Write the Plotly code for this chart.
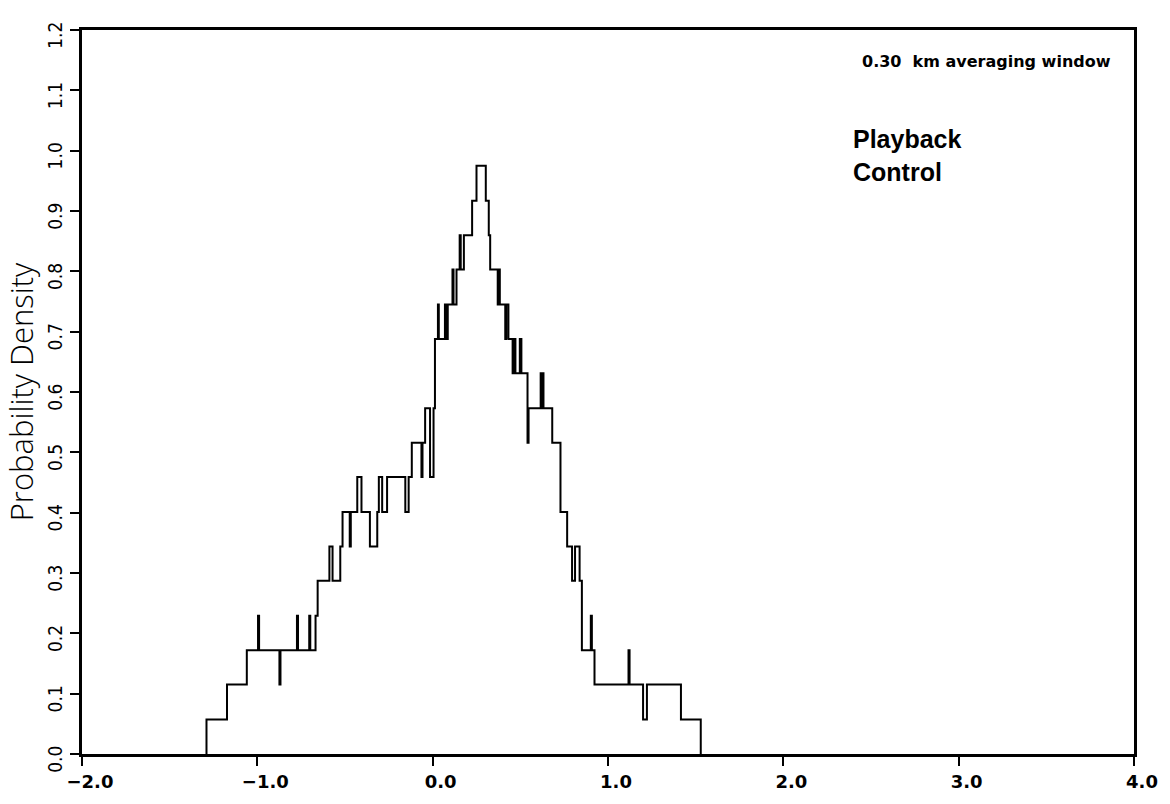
import plotly.graph_objects as go

# Step histogram of the playback-control distribution: left edge of each
# constant segment and the probability density held over that segment.
bin_left = [
    -1.290, -1.173, -1.060, -0.996, -0.990, -0.874, -0.868, -0.774, -0.768,
    -0.704, -0.698, -0.668, -0.656, -0.589, -0.571, -0.527, -0.514, -0.473,
    -0.467, -0.430, -0.406, -0.358, -0.316, -0.307, -0.288, -0.260, -0.156,
    -0.137, -0.119, -0.064, -0.058, -0.043, -0.015, 0.005, 0.013, 0.030,
    0.035, 0.070, 0.078, 0.086, 0.113, 0.119, 0.136, 0.154, 0.160, 0.178,
    0.225, 0.250, 0.303, 0.320, 0.328, 0.371, 0.377, 0.383, 0.414, 0.420,
    0.432, 0.456, 0.462, 0.472, 0.497, 0.506, 0.541, 0.547, 0.616, 0.621,
    0.627, 0.632, 0.682, 0.729, 0.767, 0.795, 0.812, 0.838, 0.851, 0.902,
    0.908, 0.923, 1.117, 1.123, 1.200, 1.222, 1.416,
]
density = [
    0.057, 0.115, 0.172, 0.229, 0.172, 0.115, 0.172, 0.229, 0.172,
    0.229, 0.172, 0.229, 0.287, 0.344, 0.287, 0.344, 0.401, 0.344,
    0.401, 0.459, 0.401, 0.344, 0.401, 0.459, 0.401, 0.459, 0.401,
    0.459, 0.516, 0.459, 0.516, 0.573, 0.459, 0.573, 0.688, 0.745,
    0.688, 0.745, 0.688, 0.745, 0.803, 0.745, 0.803, 0.860, 0.803, 0.860,
    0.917, 0.975, 0.917, 0.860, 0.803, 0.745, 0.803, 0.745, 0.688, 0.745,
    0.688, 0.631, 0.688, 0.631, 0.688, 0.631, 0.516, 0.573, 0.631, 0.573,
    0.631, 0.573, 0.516, 0.401, 0.344, 0.287, 0.344, 0.287, 0.172, 0.229,
    0.172, 0.115, 0.172, 0.115, 0.057, 0.115, 0.057,
]
x_last = 1.529

x_ticks = [-2.0, -1.0, 0.0, 1.0, 2.0, 3.0, 4.0]
y_ticks = [0.0, 0.1, 0.2, 0.3, 0.4, 0.5, 0.6, 0.7, 0.8, 0.9, 1.0, 1.1, 1.2]

# outline: rise from zero at the first edge, fall back to zero after the last
xs = [bin_left[0]] + bin_left + [x_last]
ys = [0.0] + density + [0.0]

fig = go.Figure()
fig.add_trace(go.Scatter(
    x=xs, y=ys, mode="lines", line=dict(color="black", width=2, shape="hv"),
    hoverinfo="skip", showlegend=False,
))

fig.add_annotation(
    text="0.30  km averaging window", xref="paper", yref="paper",
    x=0.980, y=0.957, xanchor="right", yanchor="middle", showarrow=False,
    font=dict(family="DejaVu Sans", size=16, color="black", weight="bold"),
)
fig.add_annotation(
    text="Playback<br>Control", xref="paper", yref="paper",
    x=0.731, y=0.826, xanchor="left", yanchor="middle", align="left",
    showarrow=False,
    font=dict(family="Liberation Sans", size=25, color="black", weight="bold"),
)

fig.update_layout(
    width=1170, height=804,
    margin=dict(l=82, r=26, t=30, b=40),
    paper_bgcolor="white", plot_bgcolor="white",
    xaxis=dict(
        range=[-2.0, 4.0], tickvals=x_ticks,
        ticktext=["\u22122.0", "\u22121.0", "0.0", "1.0", "2.0", "3.0", "4.0"],
        ticks="outside", ticklen=9, tickwidth=2, tickcolor="black",
        showline=True, linewidth=3, linecolor="black", mirror=True,
        showgrid=False, zeroline=False,
        tickfont=dict(family="DejaVu Sans", size=18, color="black", weight="bold"),
        ticklabelshift=8,
    ),
    yaxis=dict(
        range=[0.0, 1.2], tickvals=y_ticks,
        ticktext=[f"{v:.1f}" for v in y_ticks],
        ticks="outside", ticklen=9, tickwidth=2, tickcolor="black",
        showline=True, linewidth=3, linecolor="black", mirror=True,
        showgrid=False, zeroline=False, tickangle=-90,
        tickfont=dict(family="DejaVu Sans Condensed, Liberation Sans Narrow, Liberation Sans",
                      size=19, color="black"),
        ticklabelshift=8,
        title=dict(text="Probability Density", standoff=8,
                   font=dict(family="Open Sans", size=31, color="black", weight=300)),
    ),
)

fig.write_html("out.html")
